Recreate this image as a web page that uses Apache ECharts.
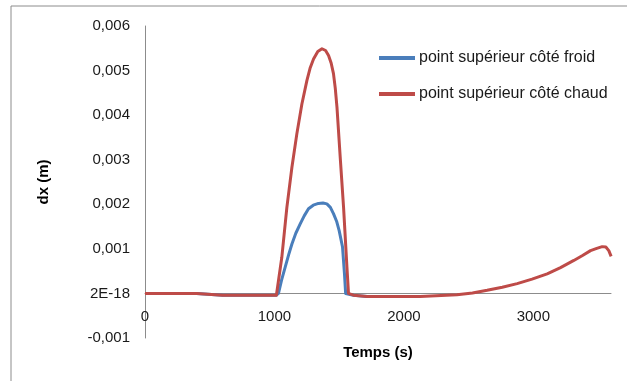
<!DOCTYPE html>
<html>
<head>
<meta charset="utf-8">
<script src="https://cdn.jsdelivr.net/npm/echarts@6/dist/echarts.min.js"></script>
<style>
  html, body { margin: 0; padding: 0; background: #fff; }
  #chart { width: 627px; height: 381px; }
</style>
</head>
<body>
<div id="chart"></div>
<script>
// temps (s) et dx (m)
var timeFroid = [0, 400, 600, 1015, 1031, 1055, 1083, 1110, 1135, 1165, 1199, 1230, 1263, 1300, 1340, 1375, 1405, 1432, 1456, 1480, 1500, 1526, 1541, 1550, 1565, 1610, 1715, 2127];
var dxFroid = [0, 0, -0.00004, -0.00004, 0, 0.0003, 0.00059, 0.00087, 0.00111, 0.00135, 0.00156, 0.00174, 0.0019, 0.00198, 0.00202, 0.00203, 0.00201, 0.00193, 0.00179, 0.00162, 0.00141, 0.00104, 0.00044, 0, -0.00002, -0.00004, -0.00007, -0.00007];

var timeChaud = [0, 400, 600, 1015, 1026, 1057, 1096, 1135, 1173, 1212, 1251, 1275, 1302, 1335, 1367, 1395, 1418, 1438, 1456, 1470, 1483, 1508, 1534, 1560, 1572, 1610, 1715, 2127, 2410, 2530, 2643, 2760, 2875, 2990, 3107, 3210, 3313, 3380, 3442, 3490, 3532, 3560, 3583, 3601];
var dxChaud = [0, 0, -0.00004, -0.00004, 0, 0.00081, 0.00193, 0.00283, 0.00358, 0.00425, 0.00478, 0.00505, 0.00526, 0.00543, 0.00549, 0.00545, 0.00534, 0.00517, 0.00493, 0.0046, 0.00418, 0.00306, 0.00193, 0.00059, 0, -0.00004, -0.00007, -0.00007, -0.00003, 0.00001, 0.00007, 0.00014, 0.00022, 0.00032, 0.00044, 0.00058, 0.00074, 0.00085, 0.00096, 0.00101, 0.00105, 0.00104, 0.00096, 0.00083];

var yTickLabels = ['-0,001', '2E-18', '0,001', '0,002', '0,003', '0,004', '0,005', '0,006'];
var seriesNames = ['point supérieur côté froid', 'point supérieur côté chaud'];

function pairs(xs, ys) {
    return xs.map(function (x, i) { return [x, ys[i]]; });
}

var myChart = echarts.init(document.getElementById('chart'));

var font = 'Liberation Sans';

var option = {
    animation: false,
    backgroundColor: '#fff',
    textStyle: { fontFamily: font },
    graphic: [{
        type: 'rect',
        shape: { x: 11, y: 6, width: 700, height: 500 },
        style: { fill: 'none', stroke: '#8c8c8c', lineWidth: 1 },
        silent: true
    }],
    grid: { left: 145, right: 16, top: 26, bottom: 43, outerBoundsMode: 'none' },
    legend: {
        orient: 'vertical',
        left: 374,
        top: 45,
        itemWidth: 36,
        itemHeight: 4,
        itemGap: 20,
        icon: 'rect',
        textStyle: { fontFamily: font, fontSize: 16, color: '#1a1a1a', padding: [0, 0, 0, -1] },
        data: seriesNames
    },
    xAxis: {
        type: 'value',
        min: 0,
        max: 3600,
        interval: 1000,
        name: 'Temps (s)',
        nameLocation: 'middle',
        nameGap: 7,
        nameTextStyle: { fontFamily: font, fontSize: 15, fontWeight: 'bold', color: '#000' },
        axisLine: { onZero: true, lineStyle: { color: '#8c8c8c', width: 1 } },
        axisTick: { show: false },
        splitLine: { show: false },
        axisLabel: {
            // les labels restent en bas de la grille : on les remonte sous la ligne du zéro
            margin: -29,
            fontSize: 15,
            color: '#1a1a1a',
            showMaxLabel: false,
            formatter: function (v) { return v % 1000 === 0 ? String(v) : ''; }
        }
    },
    yAxis: {
        type: 'value',
        min: -0.001,
        max: 0.006,
        interval: 0.001,
        name: 'dx (m)',
        nameLocation: 'middle',
        nameGap: 94,
        nameRotate: 90,
        nameTextStyle: { fontFamily: font, fontSize: 15, fontWeight: 'bold', color: '#000' },
        axisLine: { show: true, lineStyle: { color: '#8c8c8c', width: 1 } },
        axisTick: { show: false },
        splitLine: { show: false },
        axisLabel: {
            margin: 15,
            fontSize: 15,
            color: '#1a1a1a',
            formatter: function (v) {
                var i = Math.round((v + 0.001) / 0.001);
                return yTickLabels[i] || '';
            }
        }
    },
    series: [{
        name: seriesNames[0],
        type: 'line',
        data: pairs(timeFroid, dxFroid),
        showSymbol: false,
        lineStyle: { color: '#4a7ebb', width: 3, join: 'round' },
        itemStyle: { color: '#4a7ebb' },
        z: 2
    }, {
        name: seriesNames[1],
        type: 'line',
        data: pairs(timeChaud, dxChaud),
        showSymbol: false,
        lineStyle: { color: '#be4b48', width: 3, join: 'round' },
        itemStyle: { color: '#be4b48' },
        z: 3
    }]
};

myChart.setOption(option);
</script>
</body>
</html>
